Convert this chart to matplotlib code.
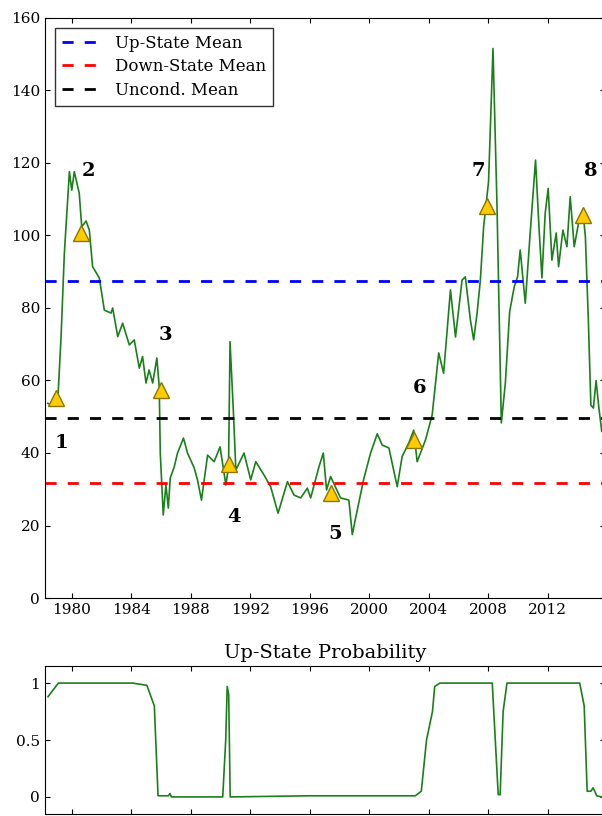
import matplotlib
matplotlib.use("Agg")
import matplotlib.pyplot as plt

plt.rcParams['font.family'] = ['DejaVu Serif']

years = [1978.39,1978.83,1979.06,1979.28,1979.5,1979.84,1980.0,1980.17,1980.5,1980.67,1980.96,1981.18,1981.4,1981.85,
 1982.19,1982.64,1982.75,1983.09,1983.42,1983.87,1984.2,1984.54,1984.76,1984.99,1985.2,1985.44,1985.72,1985.88,1985.95,
 1986.15,1986.33,1986.49,1986.62,1986.89,1987.11,1987.51,1987.78,1988.23,1988.45,1988.72,1989.13,1989.57,1989.97,
 1990.36,1990.54,1990.64,1990.87,1991.03,1991.58,1992.03,1992.37,1992.93,1993.37,1993.87,1994.5,1994.94,1995.39,
 1995.84,1996.06,1996.62,1996.91,1997.13,1997.4,1998.07,1998.63,1998.86,1999.08,1999.64,2000.09,2000.54,2000.87,
 2001.32,2001.88,2002.21,2002.66,2002.99,2003.22,2003.78,2004.23,2004.67,2005.0,2005.46,2005.8,2006.24,2006.46,
 2006.8,2007.02,2007.25,2007.47,2007.69,2008.02,2008.32,2008.59,2008.88,2009.15,2009.44,2009.75,2009.97,2010.15,
 2010.49,2010.82,2011.18,2011.41,2011.61,2011.83,2012.03,2012.28,2012.57,2012.73,2013.02,2013.29,2013.51,2013.78,
 2014.07,2014.4,2014.53,2014.73,2014.9,2015.07,2015.25,2015.43,2015.63]
price = [53.7,53.0,54.6,72,95,117.6,112.5,117.6,111.7,102.4,104,101.5,91.4,88.3,
 79.4,78.6,80,72.1,75.8,69.8,71.2,63.4,66.6,59.3,62.9,59.3,66.2,58.3,40,
 22.9,31.2,24.8,33.1,36.2,40,44.1,40,35.9,32.6,27,39.4,37.6,41.7,
 31.2,36.2,70.7,51,35.3,40,32.6,37.6,33.9,30.7,23.4,32.1,28.4,27.6,
 30.3,27.6,36.2,40,29.8,33.5,27.6,27,17.5,22,33,40,45.3,42.2,
 41.4,30.7,39,42.8,46.3,37.6,43.6,50.5,67.6,62,85,72,87.7,88.6,
 76.7,71.2,78.6,87.7,102.4,114.8,151.6,108,48.3,59.3,79,85.9,88.6,96,
 81.3,100.7,120.8,102.4,88.3,106.2,113,93.2,100.7,91.4,101.5,96.9,110.7,96.9,
 103.4,105.2,99.7,76.7,53.2,52.4,60,52.8,46]

prob_years = [1978.4,1979.1,1984.1,1985.05,1985.55,1985.8,1986.5,1986.6,1986.7,1990.15,1990.35,1990.45,1990.55,1990.65,
 1996.0,2003.1,2003.5,2003.85,2004.25,2004.4,2004.75,2008.27,2008.67,2008.8,2009.0,2009.26,2014.15,2014.45,2014.65,
 2014.9,2015.05,2015.3,2015.63]
prob = [0.88,1.0,1.0,0.98,0.8,0.01,0.01,0.03,0.0,0.0,0.5,0.97,0.9,0.0,
 0.01,0.01,0.05,0.5,0.75,0.97,1.0,1.0,0.02,0.02,0.75,1.0,1.0,0.8,0.05,
 0.05,0.08,0.01,0.0]

up_mean = 87.4
down_mean = 31.7
uncond_mean = 49.7

tri_years = [1978.95,1980.65,1986.0,1990.56,1997.4,2003.0,2007.95,2014.4]
tri_vals = [55.2,100.7,57.4,37.0,29.0,43.6,108.0,105.7]
lab_years = [1979.28,1981.1,1986.3,1990.9,1997.7,2003.4,2007.3,2014.9]
lab_vals = [42.8,117.8,72.5,22.3,17.7,58.0,117.8,117.8]
labels = ['1','2','3','4','5','6','7','8']

xticks = [1980,1984,1988,1992,1996,2000,2004,2008,2012]

fig = plt.figure(figsize=(6.02,8.16), dpi=100)
ax = fig.add_axes([45/602, 218/816, 560/602, 580/816])
ax2 = fig.add_axes([45/602, 2/816, 560/602, 148/816])

green = (0.1, 0.5, 0.1)
ax.plot(years, price, color=green, lw=1.2)
ax.axhline(up_mean, color='blue', ls='--', lw=2, dashes=(4,4), label='Up-State Mean')
ax.axhline(down_mean, color='red', ls='--', lw=2, dashes=(4,4), label='Down-State Mean')
ax.axhline(uncond_mean, color='black', ls='--', lw=2, dashes=(4,4), label='Uncond. Mean')
ax.plot(tri_years, tri_vals, '^', ms=12, mfc='#FFCC00', mec='#8B7500', ls='none')
for xx, yy, t in zip(lab_years, lab_vals, labels):
    ax.text(xx, yy, t, fontsize=14, fontweight='bold', ha='center', va='center')
ax.set_xlim(1978.2, 2015.85)
ax.set_ylim(0, 160)
ax.set_xticks(xticks)
ax.set_yticks(range(0, 161, 20))
ax.tick_params(direction='in', top=True, right=True, labelsize=11)
ax.legend(loc='upper left', fontsize=12, frameon=True, fancybox=False, edgecolor='black',
          handlelength=2.4, borderaxespad=0.6, labelspacing=0.4)

ax2.plot(prob_years, prob, color=green, lw=1.2)
ax2.set_xlim(1978.2, 2015.85)
ax2.set_ylim(-0.15, 1.15)
ax2.set_xticks(xticks)
ax2.set_xticklabels([])
ax2.set_yticks([0, 0.5, 1])
ax2.set_yticklabels(['0', '0.5', '1'])
ax2.tick_params(direction='in', top=True, right=True, labelsize=11)
ax2.set_title('Up-State Probability', fontsize=14)

fig.savefig('out.png', dpi=100)
